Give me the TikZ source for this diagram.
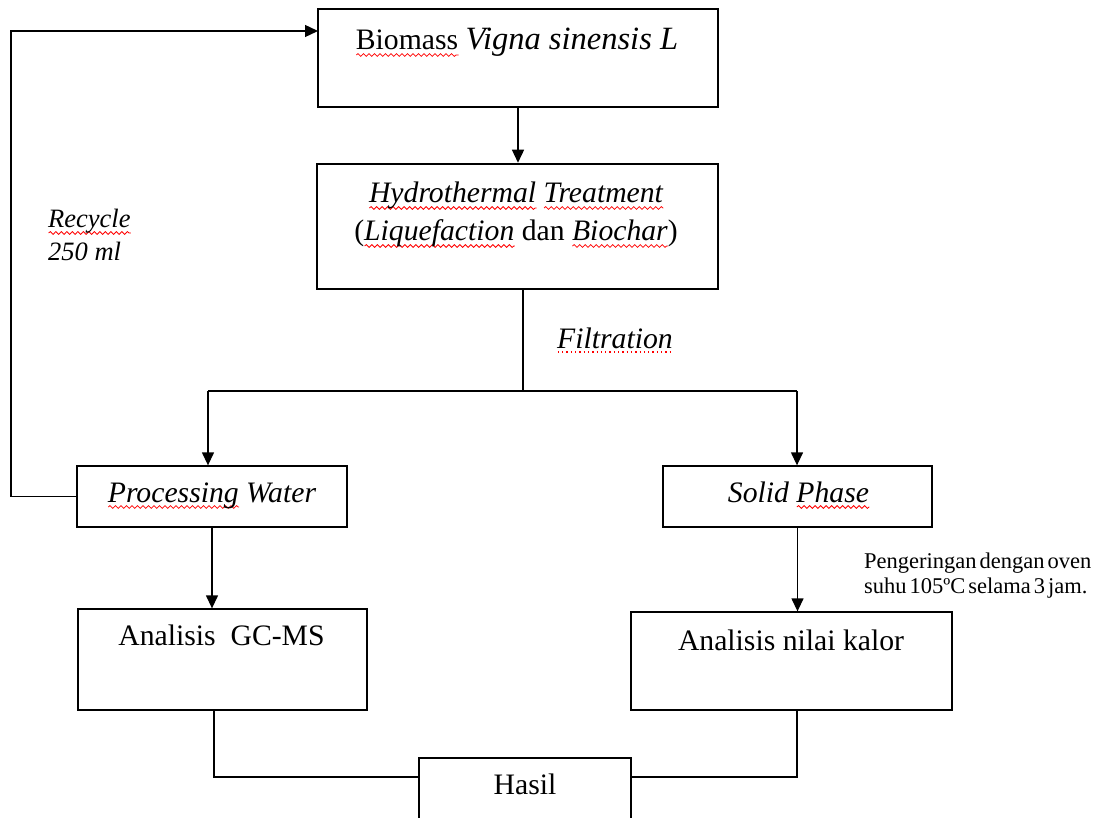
\documentclass[tikz,border=0pt]{standalone}
\usepackage{fontspec}
\setmainfont{Liberation Serif}
\usetikzlibrary{arrows.meta,calc,decorations.pathmorphing}
\newsavebox\sqbox
\newdimen\sqlen
\newcommand\squig[1]{\sbox\sqbox{#1}\sqlen=\wd\sqbox\rlap{\tikz[baseline=0pt]\draw[red,line width=0.8pt,decorate,decoration={snake,amplitude=1.4pt,segment length=5.5pt}] (0pt,-5pt) -- (\the\sqlen,-5pt);}\usebox\sqbox}
\newcommand\dotsq[1]{\sbox\sqbox{#1}\sqlen=\wd\sqbox\rlap{\tikz[baseline=0pt]\draw[red,line width=1.3pt,dash pattern=on 1.3pt off 3pt] (0pt,-4pt) -- (\the\sqlen,-4pt);}\usebox\sqbox}
\newcommand\tightsp{\spaceskip=3pt plus 1pt\relax}
\begin{document}
\begin{tikzpicture}[x=1pt,y=-1pt,
  box/.style={draw, line width=1.3pt, inner sep=0pt},
  ln/.style={line width=1.3pt},
  arr/.style={ln, -{Triangle[length=13pt,width=12pt]}},
  txt/.style={inner sep=0pt, font=\fontsize{29.7}{35}\selectfont},
  rec/.style={inner sep=0pt, font=\fontsize{26.5}{32}\selectfont},
  note/.style={inner sep=0pt, font=\fontsize{22.5}{25}\selectfont}]
\useasboundingbox (0,0) rectangle (1100,818);
% boxes
\node[box, minimum width=400pt, minimum height=98pt] (bio) at (518,58) {};
\node[box, line width=2.5pt, minimum width=401pt, minimum height=125pt] (hyd) at (517.5,226.5) {};
\node[box, minimum width=270pt, minimum height=61pt] (pw) at (212,496.5) {};
\node[box, minimum width=269pt, minimum height=61pt] (sp) at (797.5,496.5) {};
\node[box, minimum width=289pt, minimum height=101pt] (gc) at (222.5,659.5) {};
\node[box, minimum width=321pt, minimum height=98pt] (nk) at (791.5,661) {};
\node[box, minimum width=212pt, minimum height=68pt] (hasil) at (525,792) {};
% texts
\node[txt, anchor=base] (tbio) at (517,50) {\squig{Biomass} {\fontsize{32.5}{38}\selectfont\itshape Vigna sinensis L}};
\node[txt, anchor=base] (thyd1) at (516,203) {\textit{\squig{Hydrothermal} \squig{Treatment}}};
\node[txt, anchor=base] (thyd2) at (516,241) {(\textit{\squig{Liquefaction}} dan \textit{\squig{Biochar}})};
\node[txt, anchor=base west] (tfil) at (557,348) {\textit{\dotsq{Filtration}}};
\node[rec, anchor=base west] (trec1) at (48,228) {\textit{\squig{Recycle}}};
\node[rec, anchor=base west] (trec2) at (48,261) {\textit{250 ml}};
\node[txt, anchor=base] (tpw) at (212,502) {\textit{\squig{Processing} Water}};
\node[txt, anchor=base] (tsp) at (798.5,502) {\textit{Solid \squig{Phase}}};
\node[txt, anchor=base] (tgc) at (221.5,645) {Analisis\ \ GC-MS};
\node[txt, anchor=base] (tnk) at (791,650) {Analisis nilai kalor};
\node[note, anchor=base west] (tp1) at (864,568) {\tightsp Pengeringan dengan oven};
\node[note, anchor=base west] (tp2) at (864,593) {\tightsp suhu 105ºC selama 3 jam.};
\node[txt, anchor=base] (thasil) at (525,794) {Hasil};
% connectors
\coordinate (sl) at (208,391);
\coordinate (sr) at (797,391);
\coordinate (hl) at (419,777);
\coordinate (hr) at (631,777);
\coordinate (rc) at (11,31);
\coordinate (bioin) at (318,31);
\draw[arr] (bio.south) -- (bio.south |- hyd.north);
\draw[ln] ([xshift=5.5pt]hyd.south) -- ([xshift=5.5pt]hyd.south |- sl);
\draw[ln] (sl) -- (sr);
\draw[arr] (sl) -- (sl |- pw.north);
\draw[arr] (sr) -- (sr |- sp.north);
\draw[arr] (pw.south) -- (pw.south |- gc.north);
\draw[arr] (sp.south) -- (sp.south |- nk.north);
\draw[ln] ([xshift=-8.5pt]gc.south) |- (hl);
\draw[ln] (hr) -| ([xshift=5.5pt]nk.south);
\draw[arr] (pw.west) -| (rc) -- (bioin);
\end{tikzpicture}
\end{document}
